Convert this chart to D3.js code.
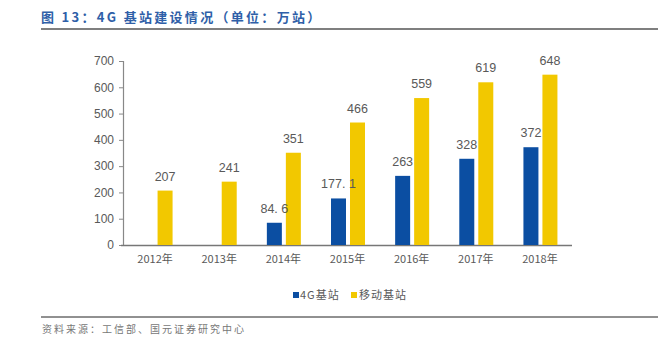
<!DOCTYPE html>
<html><head><meta charset="utf-8">
<script src="https://cdn.jsdelivr.net/npm/d3@7"></script>
<style>body{margin:0;background:#fff;} svg{display:block;}</style>
</head><body>
<svg id="c" width="672" height="348"></svg>
<script>
const categories = ["2012年","2013年","2014年","2015年","2016年","2017年","2018年"];
const series4G = [null, null, 84.6, 177.1, 263, 328, 372];
const seriesMobile = [207, 241, 351, 466, 559, 619, 648];
const labels4G = [null, null, "84. 6", "177. 1", "263", "328", "372"];
const labelsMobile = ["207","241","351","466","559","619","648"];
const yTicks = [0,100,200,300,400,500,600,700];
const seriesNames = ["4G基站","移动基站"];
const colors = ["#0B4EA2","#F2C800"];

const svg = d3.select("#c");
const font = "'Noto Sans CJK SC','Noto Sans',sans-serif";
const numFont = "'Liberation Sans','Noto Sans CJK SC',sans-serif";

// title
svg.append("text").attr("x",41).attr("y",22)
  .attr("font-family",font).attr("font-size",13).attr("font-weight","bold")
  .attr("letter-spacing",2.3).attr("fill","#2F5FA8")
  .text("图 13：4G 基站建设情况（单位：万站）");
svg.append("line").attr("x1",41).attr("x2",658).attr("y1",29).attr("y2",29)
  .attr("stroke","#555").attr("stroke-width",1.6);

const x = d3.scaleBand().domain(categories).range([123,572]);
const y = d3.scaleLinear().domain([0,700]).range([245,61]);

// y axis
const ya = svg.append("g").attr("transform","translate(123,0)")
  .call(d3.axisLeft(y).tickValues(yTicks).tickSize(4).tickPadding(5));
ya.select(".domain").attr("stroke","#888").attr("stroke-width",1.2);
ya.selectAll(".tick line").attr("stroke","#888");
ya.selectAll("text").attr("font-family",numFont).attr("font-size",12).attr("fill","#595959");

// x axis
const xa = svg.append("g").attr("transform","translate(0,245)")
  .call(d3.axisBottom(x).tickSize(0).tickPadding(10));
xa.select(".domain").attr("stroke","#777").attr("stroke-width",1.5).attr("d","M121,0.5H572");
xa.selectAll("text").attr("font-family",font).attr("font-size",11).attr("fill","#595959");

const bw = 15, gap = 4;
const cx = d => x(d) + x.bandwidth()/2;
const bars = svg.append("g"), lbls = svg.append("g");

categories.forEach((c,i)=>{
  if (series4G[i] != null) {
    const bx = cx(c) - bw - gap/2 + 0.5;
    bars.append("rect").attr("x",bx).attr("width",bw)
      .attr("y",y(series4G[i])).attr("height",y(0)-y(series4G[i])).attr("fill",colors[0]);
    lbls.append("text").attr("x",bx+bw/2).attr("y",y(series4G[i])-10)
      .attr("text-anchor","middle").attr("font-family",numFont).attr("font-size",12.5)
      .attr("fill","#595959").text(labels4G[i]);
  }
  const yx = cx(c) + gap/2 + 0.5;
  bars.append("rect").attr("x",yx).attr("width",bw)
    .attr("y",y(seriesMobile[i])).attr("height",y(0)-y(seriesMobile[i])).attr("fill",colors[1]);
  lbls.append("text").attr("x",yx+bw/2).attr("y",y(seriesMobile[i])-10)
    .attr("text-anchor","middle").attr("font-family",numFont).attr("font-size",12.5)
    .attr("fill","#595959").text(labelsMobile[i]);
});

// legend
const lg = [{x:293,tx:300},{x:351,tx:359}];
seriesNames.forEach((n,i)=>{
  svg.append("rect").attr("x",lg[i].x).attr("y",292).attr("width",6).attr("height",6).attr("fill",colors[i]);
  svg.append("text").attr("x",lg[i].tx).attr("y",299).attr("font-family",font)
    .attr("font-size",11).attr("letter-spacing",1).attr("fill","#595959").text(n);
});

// bottom
svg.append("line").attr("x1",41).attr("x2",658).attr("y1",317).attr("y2",317)
  .attr("stroke","#222").attr("stroke-width",1);
svg.append("text").attr("x",42).attr("y",333).attr("font-family",font)
  .attr("font-size",10).attr("letter-spacing",2).attr("fill","#777")
  .text("资料来源：工信部、国元证券研究中心");
</script>
</body></html>
